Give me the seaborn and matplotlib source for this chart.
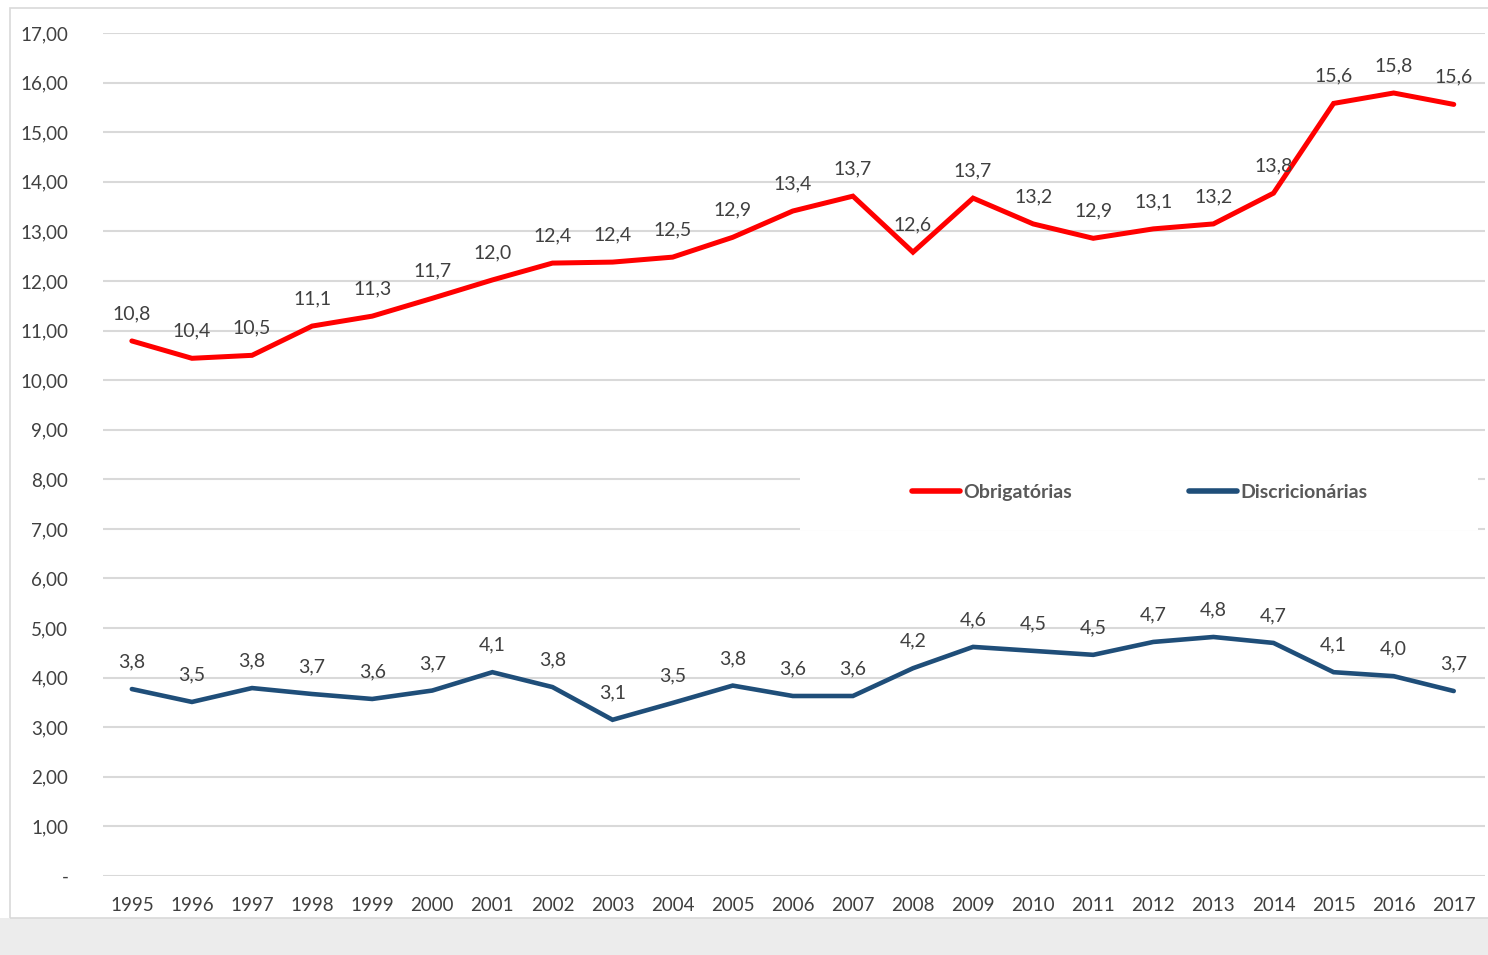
import pandas as pd
import seaborn as sns
import matplotlib.pyplot as plt
from matplotlib.patches import Rectangle

# values (% do PIB)
years = list(range(1995, 2018))
obrigatorias = [10.79, 10.44, 10.50, 11.09, 11.29, 11.65, 12.02, 12.36, 12.38, 12.48, 12.88, 13.41,
                13.71, 12.58, 13.67, 13.15, 12.86, 13.05, 13.15, 13.77, 15.58, 15.79, 15.56]
discricionarias = [3.77, 3.51, 3.79, 3.67, 3.57, 3.74, 4.11, 3.81, 3.15, 3.49, 3.84, 3.63,
                   3.63, 4.19, 4.62, 4.54, 4.46, 4.72, 4.82, 4.70, 4.11, 4.03, 3.73]
series_names = ['Obrigatórias', 'Discricionárias']
y_ticks = list(range(0, 18))

df = pd.DataFrame({'Ano': years * 2,
                   'Valor': obrigatorias + discricionarias,
                   'Serie': [series_names[0]] * len(years) + [series_names[1]] * len(years)})

sns.set_theme(style='white')
plt.rcParams['font.family'] = ['Lato', 'DejaVu Sans']

text_color = '#404040'
colors = {'Obrigatórias': '#ff0000', 'Discricionárias': '#1f4e79'}

fig = plt.figure(figsize=(14.88, 9.55), dpi=100)
fig.patch.set_facecolor('white')

# bottom grey band and chart frame
fig.patches.append(Rectangle((0, 0), 1, 37 / 955, transform=fig.transFigure,
                             facecolor='#ececec', edgecolor='none', zorder=0))
fig.patches.append(Rectangle((10 / 1488, 37 / 955), 1.1, (947 - 37) / 955, transform=fig.transFigure,
                             facecolor='none', edgecolor='#d9d9d9', linewidth=1.2, zorder=0))

ax = fig.add_axes([103 / 1488, 1 - 876 / 955, 1382 / 1488, 843 / 955])
ax.set_facecolor('none')

sns.lineplot(data=df, x='Ano', y='Valor', hue='Serie', palette=colors, ax=ax,
             linewidth=3.6, legend=False, zorder=3)
for line in ax.lines:
    line.set_solid_joinstyle('miter')
ax.lines[1].set_linewidth(3.3)

# data labels
for vals in (obrigatorias, discricionarias):
    for x, v in zip(years, vals):
        ax.annotate(f'{v:.1f}'.replace('.', ','), (x, v), xytext=(0, 19.5),
                    textcoords='offset points', ha='center', va='center',
                    fontsize=14, color=text_color, zorder=4)

ax.set_xlim(1994.52, 2017.52)
ax.set_ylim(0, 17)
ax.set_xticks(years)
ax.set_xticklabels([str(y) for y in years])
ax.set_yticks(y_ticks)
ax.set_yticklabels(['-'] + [f'{t:.2f}'.replace('.', ',') for t in y_ticks[1:]])
ax.tick_params(axis='both', length=0, labelsize=13.5, labelcolor=text_color)
ax.tick_params(axis='y', pad=25)
ax.tick_params(axis='x', pad=15)
ax.grid(axis='y', color='#d9d9d9', linewidth=1.5)
ax.set_axisbelow(True)
for s in ax.spines.values():
    s.set_visible(False)
ax.set_xlabel('')
ax.set_ylabel('')

# legend on a white box
ax.add_patch(Rectangle((0.504, 0.410), 0.491, 0.0735, transform=ax.transAxes,
                       facecolor='white', edgecolor='none', zorder=2))
handles = [plt.Line2D([], [], color=colors[n], linewidth=4, solid_capstyle='round') for n in series_names]
leg = ax.legend(handles, series_names, ncol=2, loc='center', bbox_to_anchor=(0.75, 0.4555),
                frameon=False, handlelength=2.5, handletextpad=0.15, columnspacing=6.0,
                prop={'weight': 'bold', 'size': 14})
for t in leg.get_texts():
    t.set_color('#595959')
leg.set_zorder(5)

plt.savefig('out.png', dpi=100)
